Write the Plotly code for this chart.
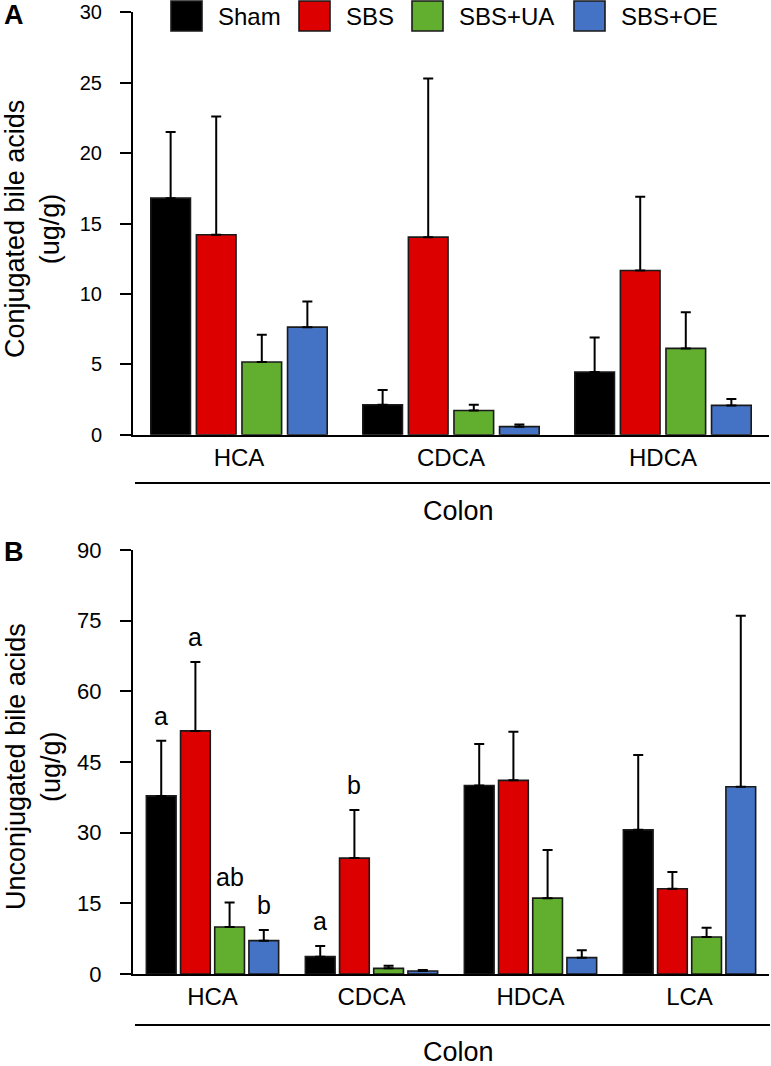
import plotly.graph_objects as go

# ---------------- data ----------------
groups = ["Sham", "SBS", "SBS+UA", "SBS+OE"]
colors = ["#000000", "#dc0000", "#62ae2e", "#4472c4"]

cats_conj = ["HCA", "CDCA", "HDCA"]
conj_sham = [16.8, 2.13, 4.45]
conj_sham_err = [4.7, 1.04, 2.45]
conj_sbs = [14.2, 14.03, 11.66]
conj_sbs_err = [8.4, 11.27, 5.24]
conj_ua = [5.16, 1.72, 6.13]
conj_ua_err = [1.94, 0.41, 2.57]
conj_oe = [7.64, 0.57, 2.08]
conj_oe_err = [1.82, 0.16, 0.45]

cats_unconj = ["HCA", "CDCA", "HDCA", "LCA"]
unconj_sham = [37.8, 3.68, 40.0, 30.6]
unconj_sham_err = [11.7, 2.26, 8.8, 15.9]
unconj_sbs = [51.6, 24.6, 41.1, 18.1]
unconj_sbs_err = [14.6, 10.2, 10.3, 3.55]
unconj_ua = [9.98, 1.2, 16.1, 7.85]
unconj_ua_err = [5.2, 0.57, 10.2, 1.98]
unconj_oe = [7.08, 0.64, 3.47, 39.76]
unconj_oe_err = [2.26, 0.21, 1.55, 36.3]

letters_sham = ["a", "a", "", ""]
letters_sbs = ["a", "b", "", ""]
letters_ua = ["ab", "", "", ""]
letters_oe = ["b", "", "", ""]

# ---------------- layout helpers ----------------
W, H = 771, 1066
ML, MR, MT, MB = 133, 2, 12, 92
PW = W - ML - MR
PH = H - MT - MB


def xp(px):
    return (px - ML) / PW


def yp(py):
    return (H - MB - py) / PH


FONT = "Liberation Sans, Arial, Helvetica, sans-serif"
BARGAP = 0.14
GROUPGAP = 0.13

fig = go.Figure()

conj_vals = [conj_sham, conj_sbs, conj_ua, conj_oe]
conj_errs = [conj_sham_err, conj_sbs_err, conj_ua_err, conj_oe_err]
unconj_vals = [unconj_sham, unconj_sbs, unconj_ua, unconj_oe]
unconj_errs = [unconj_sham_err, unconj_sbs_err, unconj_ua_err, unconj_oe_err]
letters = [letters_sham, letters_sbs, letters_ua, letters_oe]

for i, g in enumerate(groups):
    fig.add_trace(go.Bar(
        name=g, x=cats_conj, y=conj_vals[i], xaxis="x", yaxis="y",
        marker=dict(color=colors[i], line=dict(color="#1a1a1a", width=1.6)),
        error_y=dict(type="data", array=conj_errs[i], arrayminus=[0] * len(cats_conj),
                     symmetric=False, color="black", thickness=2, width=5),
        showlegend=False, offsetgroup=str(i),
    ))
for i, g in enumerate(groups):
    fig.add_trace(go.Bar(
        name=g, x=cats_unconj, y=unconj_vals[i], xaxis="x2", yaxis="y2",
        marker=dict(color=colors[i], line=dict(color="#1a1a1a", width=1.6)),
        error_y=dict(type="data", array=unconj_errs[i], arrayminus=[0] * len(cats_unconj),
                     symmetric=False, color="black", thickness=2, width=5),
        showlegend=False, offsetgroup=str(i),
    ))

annotations = []
shapes = []

# significance letters (bottom panel), placed above error bars
slot = (1 - BARGAP) / 4
for i in range(4):
    off = (i - 1.5) * slot
    for j, c in enumerate(cats_unconj):
        t = letters[i][j]
        if t:
            annotations.append(dict(
                x=j + off, y=unconj_vals[i][j] + unconj_errs[i][j], xref="x2", yref="y2",
                text=t, showarrow=False, yanchor="bottom", yshift=9,
                font=dict(size=25, color="black", family=FONT)))

# legend (drawn manually, large squares)
leg_sq = [171, 299, 412, 574]
leg_tx = [216, 344, 457, 619]
for i, g in enumerate(groups):
    shapes.append(dict(type="rect", xref="paper", yref="paper",
                       x0=xp(leg_sq[i]), x1=xp(leg_sq[i] + 31), y0=yp(31), y1=yp(1),
                       fillcolor=colors[i], line=dict(color="#1a1a1a", width=1.6)))
    annotations.append(dict(x=xp(leg_tx[i]), y=yp(17), xref="paper", yref="paper",
                            text=g, showarrow=False, xanchor="left", yanchor="middle",
                            font=dict(size=24, color="black", family=FONT)))

# y-axis titles
annotations.append(dict(x=xp(33), y=yp(229), xref="paper", yref="paper",
                        text="Conjugated bile acids<br>(ug/g)", textangle=-90, showarrow=False,
                        xanchor="center", yanchor="middle",
                        font=dict(size=27, color="black", family=FONT)))
annotations.append(dict(x=xp(33), y=yp(767), xref="paper", yref="paper",
                        text="Unconjugated bile acids<br>(ug/g)", textangle=-90, showarrow=False,
                        xanchor="center", yanchor="middle",
                        font=dict(size=27, color="black", family=FONT)))

# x-axis group titles with underline
for yl, yt in [(483, 511), (1025, 1052)]:
    shapes.append(dict(type="line", xref="paper", yref="paper",
                       x0=xp(135), x1=xp(770), y0=yp(yl), y1=yp(yl),
                       line=dict(color="black", width=2)))
    annotations.append(dict(x=xp(458), y=yp(yt), xref="paper", yref="paper",
                            text="Colon", showarrow=False, xanchor="center", yanchor="middle",
                            font=dict(size=27, color="black", family=FONT)))

# panel letters
annotations.append(dict(x=xp(2), y=yp(15), xref="paper", yref="paper", text="<b>A</b>",
                        showarrow=False, xanchor="left", yanchor="middle",
                        font=dict(size=27, color="black", family=FONT)))
annotations.append(dict(x=xp(2), y=yp(552), xref="paper", yref="paper", text="<b>B</b>",
                        showarrow=False, xanchor="left", yanchor="middle",
                        font=dict(size=27, color="black", family=FONT)))

xcommon = dict(type="category", showline=True, linecolor="black", linewidth=2,
               ticks="", showgrid=False, zeroline=False, automargin=False,
               tickfont=dict(size=24, color="black", family=FONT), ticklabelstandoff=0)
ycommon = dict(showline=True, linecolor="black", linewidth=2, ticks="outside",
               ticklen=11, tickwidth=2, tickcolor="black", showgrid=False, zeroline=False,
               automargin=False, ticklabelstandoff=14)

fig.update_layout(
    width=W, height=H,
    margin=dict(l=ML, r=MR, t=MT, b=MB),
    paper_bgcolor="white", plot_bgcolor="white",
    barmode="group", bargap=BARGAP, bargroupgap=GROUPGAP,
    font=dict(family=FONT, color="black"),
    xaxis=dict(domain=[0, 1], anchor="y", range=[-0.5, 2.5], **xcommon),
    yaxis=dict(domain=[yp(434.7), yp(12.3)], anchor="x", range=[0, 30], dtick=5,
               tickfont=dict(size=20, color="black", family=FONT), **ycommon),
    xaxis2=dict(domain=[0, 1], anchor="y2", range=[-0.5, 3.5], **xcommon),
    yaxis2=dict(domain=[yp(974), yp(550)], anchor="x2", range=[0, 90], dtick=15,
                tickfont=dict(size=22, color="black", family=FONT), **ycommon),
    annotations=annotations, shapes=shapes, showlegend=False,
)

# the page's default body margin would shift the figure by 8px; remove it
fig.write_html("out.html", config={"displayModeBar": False},
               post_script="document.body.style.margin='0px';")
